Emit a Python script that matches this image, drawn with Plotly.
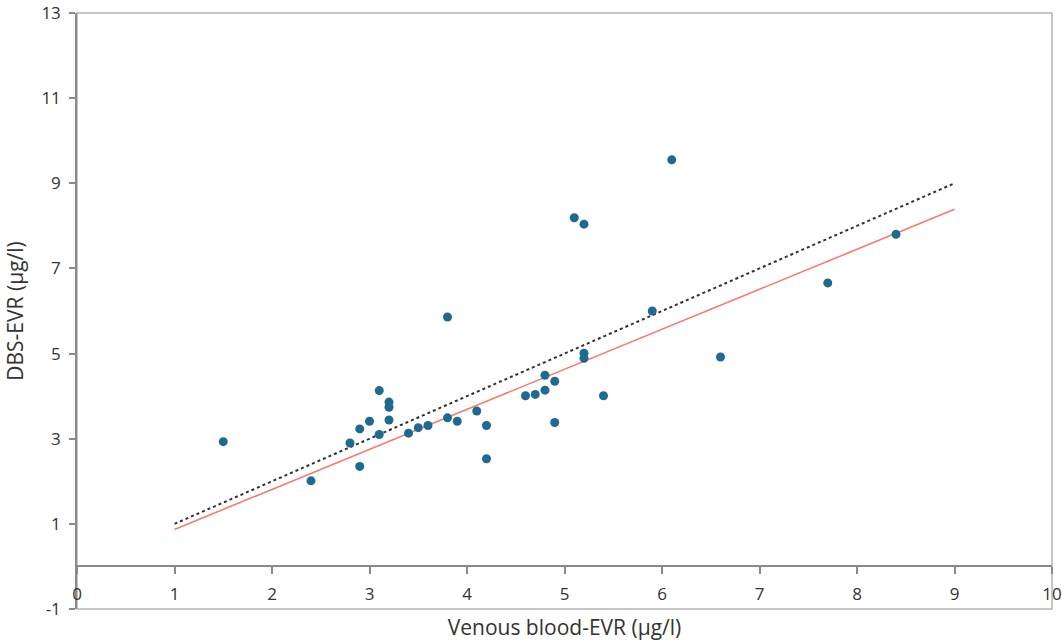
import plotly.graph_objects as go

# Data
venous = [1.5, 2.4, 2.8, 2.9, 2.9, 3.0, 3.1, 3.1, 3.2, 3.2, 3.2, 3.4, 3.5, 3.6,
          3.8, 3.8, 3.9, 4.1, 4.2, 4.2, 4.6, 4.7, 4.8, 4.8, 4.9, 4.9, 5.1, 5.2,
          5.2, 5.2, 5.4, 5.9, 6.1, 6.6, 7.7, 8.4]
dbs = [2.93, 2.01, 2.90, 3.23, 2.35, 3.41, 4.13, 3.10, 3.86, 3.74, 3.44, 3.13, 3.26, 3.31,
       5.86, 3.49, 3.41, 3.65, 3.31, 2.53, 4.01, 4.04, 4.14, 4.49, 4.35, 3.38, 8.19, 8.04,
       5.01, 4.89, 4.01, 6.00, 9.55, 4.92, 6.66, 7.80]

identity_x = [1, 9]
identity_y = [1, 9]
fit_x = [1, 9]
fit_y = [0.87, 8.39]

x_ticks = list(range(0, 11))
x_labels = [str(v) for v in x_ticks]
y_ticks = [-1, 1, 3, 5, 7, 9, 11, 13]
y_labels = [str(v) for v in y_ticks]

AXIS = "#8a8a8a"
FONT = "Open Sans"
TXT = "#333333"

fig = go.Figure()
fig.add_trace(go.Scatter(x=identity_x, y=identity_y, mode="lines",
                         line=dict(color="#303030", width=2, dash="dot"),
                         showlegend=False, hoverinfo="skip"))
fig.add_trace(go.Scatter(x=fit_x, y=fit_y, mode="lines",
                         line=dict(color="#f07c76", width=1.6),
                         showlegend=False, hoverinfo="skip"))
fig.add_trace(go.Scatter(x=venous, y=dbs, mode="markers",
                         marker=dict(color="#1f6a8e", size=9),
                         showlegend=False))

ypos0 = (0 - (-1)) / (13 - (-1))

fig.update_layout(
    width=1062, height=643,
    margin=dict(l=77, r=10, t=13, b=34, autoexpand=False),
    paper_bgcolor="white", plot_bgcolor="white",
    font=dict(family=FONT, color=TXT),
    xaxis=dict(range=[0, 10], tickvals=x_ticks, ticktext=x_labels,
               showgrid=False, zeroline=False, automargin=False,
               anchor="free", position=ypos0, ticklabeloverflow="allow",
               showline=True, linecolor=AXIS, linewidth=1.5,
               ticks="outside", ticklen=7, tickcolor=AXIS, tickwidth=1.5,
               ticklabelstandoff=5,
               tickfont=dict(size=17, color=TXT, family=FONT),
               title=dict(text="Venous blood-EVR (µg/l)", standoff=16,
                          font=dict(size=21, color=TXT, family=FONT))),
    xaxis2=dict(range=[0, 10], tickvals=x_ticks, overlaying="x", anchor="free",
                position=ypos0, showline=False, showgrid=False, zeroline=False,
                ticks="inside", ticklen=6, tickcolor=AXIS, tickwidth=1.5,
                showticklabels=False, automargin=False),
    yaxis=dict(range=[-1, 13], tickvals=y_ticks, ticktext=y_labels,
               showgrid=False, zeroline=False, automargin=False,
               ticklabeloverflow="allow",
               showline=True, linecolor=AXIS, linewidth=1.5,
               ticks="outside", ticklen=6, tickcolor=AXIS, tickwidth=1.5,
               ticklabelstandoff=5,
               tickfont=dict(size=17, color=TXT, family=FONT),
               title=dict(text="DBS-EVR (µg/l)", standoff=12,
                          font=dict(size=21, color=TXT, family=FONT))),
    yaxis2=dict(range=[-1, 13], tickvals=y_ticks, overlaying="y", anchor="x",
                showline=False, showgrid=False, zeroline=False,
                ticks="inside", ticklen=6, tickcolor=AXIS, tickwidth=1.5,
                showticklabels=False, automargin=False),
    shapes=[dict(type="rect", xref="paper", yref="paper", x0=0, y0=0, x1=1, y1=1,
                 line=dict(color="#b5b5b5", width=1.5), layer="below")],
)

fig.write_html("out.html", config={"displayModeBar": False},
               post_script="document.body.style.margin='0';document.body.style.overflow='hidden';")
